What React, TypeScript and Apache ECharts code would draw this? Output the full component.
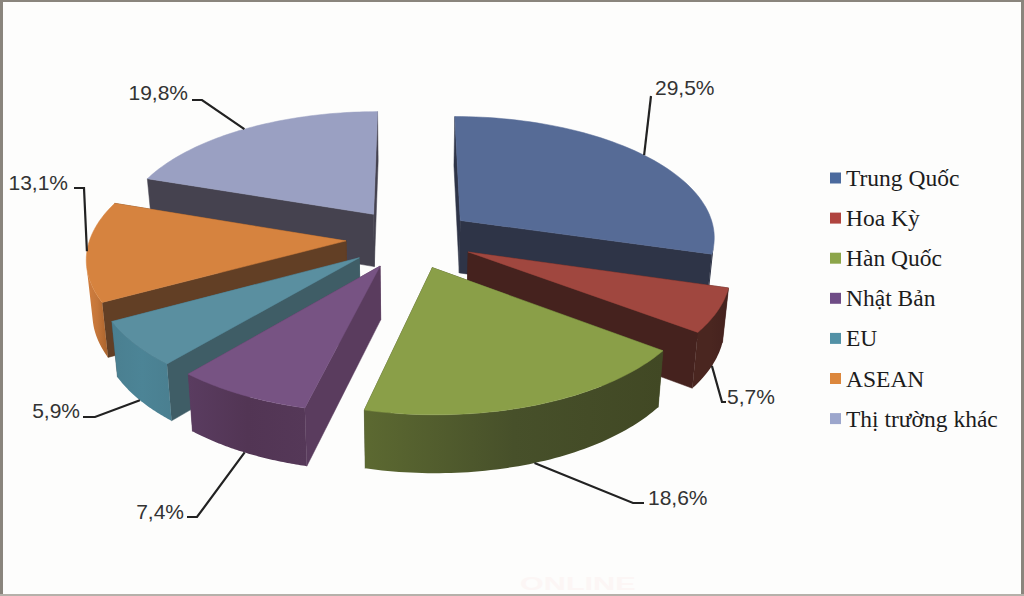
import React, { useEffect, useRef } from "react";
import * as echarts from "echarts";

const categories = ["Trung Quốc", "Hoa Kỳ", "Hàn Quốc", "Nhật Bản", "EU", "ASEAN", "Thị trường khác"];
const shares = [29.5, 5.7, 18.6, 7.4, 5.9, 13.1, 19.8];
const shareLabels = ["29,5%", "5,7%", "18,6%", "7,4%", "5,9%", "13,1%", "19,8%"];

const topColors = ["#566b96", "#a0473f", "#8a9f48", "#775383", "#5a8fa0", "#d6833f", "#9aa0c2"];
const legendColors = ["#4b6a9e", "#b0443f", "#8ca54a", "#6f4c86", "#5291a6", "#dc873c", "#9ca6cc"];
const radialColors = ["#2e3447", "#45221e", "#414824", "#5a3c5e", "#3f5d66", "#623f25", "#45424f"];
const outerLeft = ["#2e3447", "#4a2620", "#5c6931", "#5a3c60", "#4a7f90", "#d27f3f", "#45424f"];
const outerMid = ["#2e3447", "#4a2620", "#47502a", "#523554", "#4c8496", "#c4763a", "#45424f"];
const outerRight = ["#2e3447", "#45221e", "#414824", "#553858", "#4a7f90", "#a9632c", "#45424f"];
// paint order, far slices first
const paintRank = [1, 3, 6, 5, 4, 2, 0];
// knee and text position of each leader, relative to the page
const leaderKnee = [[651, 96], [722, 402], [633, 503], [197, 517], [95, 417], [84, 188], [202, 100]];
const leaderEnd = [[651, 96], [726, 402], [644, 503], [187, 517], [83, 417], [74, 188], [192, 100]];
const labelAnchor = [[655, 87], [727, 396], [648, 497], [184, 511], [80, 410], [68, 182], [188, 92]];
const labelAlign = ["left", "left", "left", "right", "right", "right", "right"];

const CX = 410, CY = 238.3, A = 256, B = 121, K = 0.124, EXPLODE = 0.25;
const total = shares.reduce((s, v) => s + v, 0);

function project(x: number, y: number) {
  const w = 1 - K * y;
  return { x: CX + (A * x) / w, y: CY + (B * y) / w, w };
}
function lower(p: { x: number; y: number; w: number }) {
  return { x: CX + (p.x - CX) * (1 - 0.019), y: p.y + 23 + 30 / p.w, w: p.w };
}
const pt = (p: { x: number; y: number }) => [p.x, p.y];

function renderSlice(index: number) {
  return (_params: any, api: any) => {
    const value = api.value(0);
    let before = 0;
    for (let i = 0; i < index; i++) before += shares[i];
    const t1 = (before / total) * Math.PI * 2;
    const t2 = ((before + value) / total) * Math.PI * 2;
    const m = (t1 + t2) / 2;
    const ex = EXPLODE * Math.sin(m), ey = -EXPLODE * Math.cos(m);
    const at = (t: number) => project(ex + Math.sin(t), ey - Math.cos(t));
    const apex = project(ex, ey);
    const arc: { x: number; y: number; w: number }[] = [];
    const steps = 60;
    for (let i = 0; i <= steps; i++) arc.push(at(t1 + ((t2 - t1) * i) / steps));
    const arcLow = arc.map(lower);
    const apexLow = lower(apex);
    const radial = (p: any) => [pt(apex), pt(p), pt(lower(p)), pt(apexLow)];
    const children: any[] = [];
    const faces = [radial(arc[0]), radial(arc[steps])];
    if (arc[0].y > arc[steps].y) faces.reverse();
    faces.forEach((points) =>
      children.push({ type: "polygon", shape: { points }, style: { fill: radialColors[index], stroke: radialColors[index], lineWidth: 0.5 } })
    );
    // only the part of the rim that faces the viewer, so the outline follows the silhouette
    let first = -1, last = -1;
    for (let i = 0; i < steps; i++) {
      const dx = arc[i + 1].x - arc[i].x, dy = arc[i + 1].y - arc[i].y;
      const downX = arcLow[i].x - arc[i].x, downY = arcLow[i].y - arc[i].y;
      if (dx * downY - dy * downX < 0) {
        if (first < 0) first = i;
        last = i + 1;
      }
    }
    if (first >= 0) {
      children.push({
        type: "polygon",
        shape: {
          points: [...arc.slice(first, last + 1).map(pt), ...arcLow.slice(first, last + 1).reverse().map(pt)],
        },
        style: {
          fill: new echarts.graphic.LinearGradient(0, 0, 1, 0, [
            { offset: 0, color: outerLeft[index] },
            { offset: 0.5, color: outerMid[index] },
            { offset: 1, color: outerRight[index] },
          ]),
        },
      });
    }
    children.push({
      type: "polygon",
      shape: { points: [pt(apex), ...arc.map(pt)] },
      style: { fill: topColors[index], stroke: topColors[index], lineWidth: 0.5 },
    });
    const mid = at(m);
    const start = Math.cos(m) < -0.2 ? lower(mid) : mid;
    children.push({
      type: "polyline",
      shape: { points: [pt(start), leaderKnee[index], leaderEnd[index]] },
      style: { fill: "none", stroke: "#222222", lineWidth: 2.2 },
    });
    children.push({
      type: "text",
      style: {
        text: shareLabels[index],
        x: labelAnchor[index][0],
        y: labelAnchor[index][1],
        fill: "#333333",
        font: '21px "Liberation Sans"',
        textAlign: labelAlign[index],
        textVerticalAlign: "middle",
      },
    });
    return { type: "group", children };
  };
}

export default function App() {
  const ref = useRef<HTMLDivElement>(null);
  useEffect(() => {
    const chart = echarts.init(ref.current!, undefined, { renderer: "svg" });
    chart.setOption({
      animation: false,
      backgroundColor: "#fdfdfc",
      legend: {
        orient: "vertical",
        left: 825,
        top: 161,
        itemWidth: 11,
        itemHeight: 11,
        itemGap: 16.1,
        icon: "rect",
        selectedMode: false,
        textStyle: { fontFamily: '"Liberation Serif"', fontSize: 23.5, lineHeight: 22, color: "#1c1c1c" },
        data: categories.map((name, i) => ({ name, itemStyle: { color: legendColors[i] } })),
      },
      graphic: [
        {
          type: "text",
          x: 520,
          y: 575,
          scaleX: 1.7,
          silent: true,
          style: { text: "ONLINE", fill: "#fcf6f5", font: 'bold 18px "Liberation Sans"' },
        },
        { type: "rect", shape: { x: 0, y: 0, width: 1024, height: 2 }, style: { fill: "#8a857d" }, silent: true },
        { type: "rect", shape: { x: 0, y: 0, width: 3, height: 596 }, style: { fill: "#8a857d" }, silent: true },
        { type: "rect", shape: { x: 1021, y: 0, width: 3, height: 596 }, style: { fill: "#8a857d" }, silent: true },
        { type: "rect", shape: { x: 0, y: 594, width: 1024, height: 2 }, style: { fill: "#b5b1aa" }, silent: true },
      ],
      series: categories.map((name, i) => ({
        type: "custom",
        name,
        coordinateSystem: "none",
        silent: true,
        z: 2 + paintRank[i],
        itemStyle: { color: legendColors[i] },
        data: [[shares[i]]],
        renderItem: renderSlice(i),
      })),
    });
    return () => chart.dispose();
  }, []);
  return <div ref={ref} style={{ position: "fixed", left: 0, top: 0, width: 1024, height: 596 }} />;
}
